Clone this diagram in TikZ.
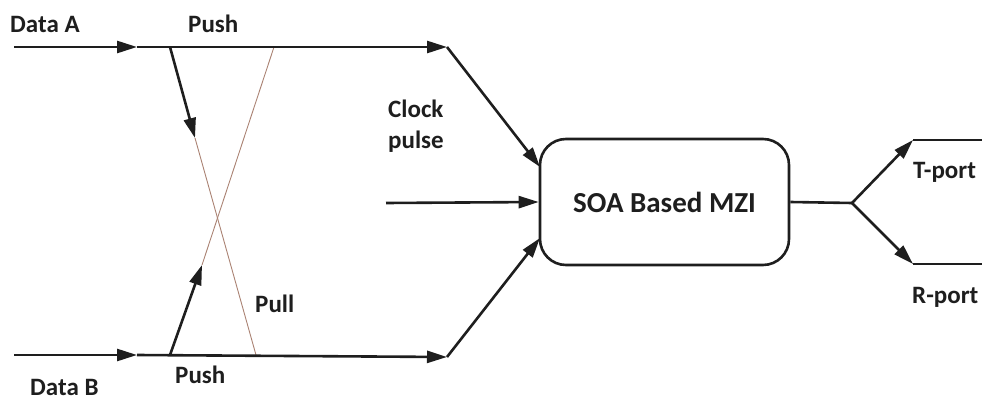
\documentclass[tikz,border=0pt]{standalone}
\usepackage{fontspec}
\setmainfont{Carlito}
\usetikzlibrary{arrows.meta}
\definecolor{txt}{RGB}{30,30,30}
\definecolor{thin}{RGB}{170,130,115}
\tikzset{
  wire/.style={line width=2.6pt, draw=txt},
  arr/.style={wire, -{Triangle[length=20pt,width=12pt]}},
  thinline/.style={line width=0.9pt, draw=thin},
  lbl/.style={font=\fontsize{25}{30}\selectfont\bfseries, text=txt, inner sep=0pt, anchor=base west},
  blk/.style={draw=txt, line width=2.6pt, rounded corners=26pt, minimum width=249pt, minimum height=126pt, font=\fontsize{29}{34}\selectfont\bfseries, text=txt}
}
\begin{document}
\begin{tikzpicture}[x=1pt,y=-1pt]
\useasboundingbox (0,0) rectangle (982,401);
% coordinates
\coordinate (aS) at (14,47);
\coordinate (aM) at (137,47);
\coordinate (aP) at (170,47);
\coordinate (aE) at (447,47);
\coordinate (aT) at (195,138);
\coordinate (aX) at (274,47);
\coordinate (bS) at (14,355);
\coordinate (bM) at (137,355);
\coordinate (bP) at (170,355);
\coordinate (bE) at (447,357);
\coordinate (bT) at (202,265);
\coordinate (bX) at (256,355);
\coordinate (cS) at (386,203);
\node[blk] (mzi) at (664.5,202) {SOA Based MZI};
\coordinate (mA) at (540,167);
\coordinate (mB) at (540,238);
\coordinate (sp) at (852,203);
\coordinate (tC) at (913,140);
\coordinate (tE) at (982,140);
\coordinate (rC) at (913,264);
\coordinate (rE) at (982,264);
% thin crossing lines
\draw[thinline] (aT) -- (bX);
\draw[thinline] (aX) -- (bT);
% data A
\draw[arr] (aS) -- (aM);
\draw[arr] (aM) -- (aE);
\draw[arr] (aE) -- (mA);
\draw[arr] (aP) -- (aT);
% data B
\draw[arr] (bS) -- (bM);
\draw[arr] (bM) -- (bE);
\draw[arr] (bE) -- (mB);
\draw[arr] (bP) -- (bT);
% clock
\draw[arr] (cS) -- (mzi.west);
% outputs
\draw[wire] (mzi.east) -- (sp);
\draw[arr] (sp) -- (tC);
\draw[wire] (tC) -- (tE);
\draw[arr] (sp) -- (rC);
\draw[wire] (rC) -- (rE);
% labels
\node[lbl] (la) at (10,33) {Data A};
\node[lbl] (pa) at (188,33) {Push};
\node[lbl] (lb) at (30,395) {Data B};
\node[lbl] (pb) at (175,383) {Push};
\node[lbl] (pl) at (255,312) {Pull};
\node[lbl, align=left] (ck) at (388,148) {Clock\\pulse};
\node[lbl] (tp) at (913,178) {T-port};
\node[lbl] (rp) at (912,303) {R-port};
\end{tikzpicture}
\end{document}
